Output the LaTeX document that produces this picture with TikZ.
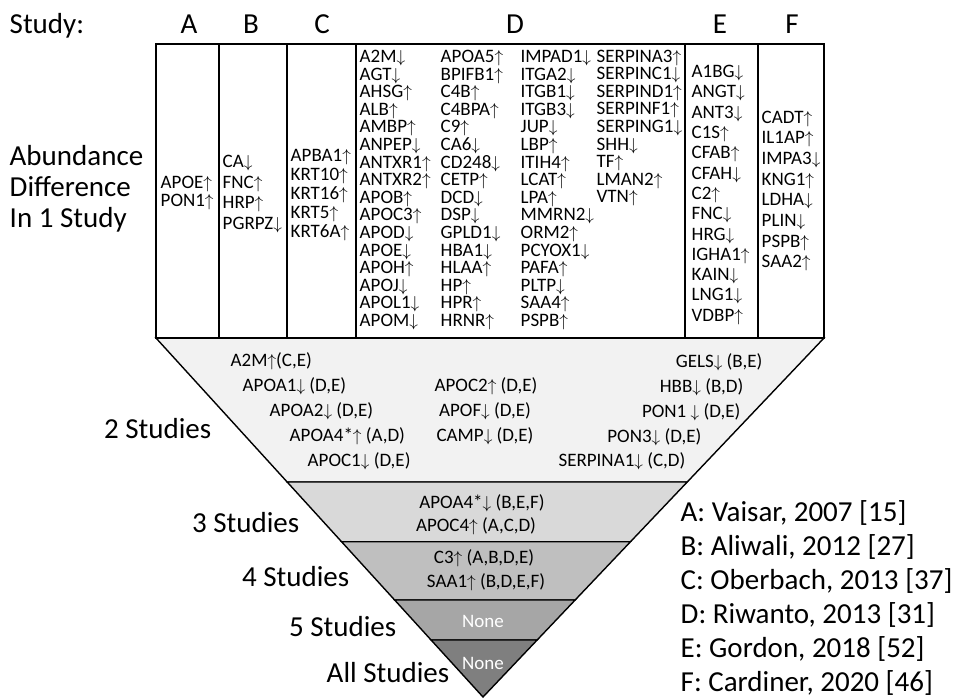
\documentclass[tikz,border=0pt]{standalone}
\usepackage{fontspec}
\setmainfont{Carlito}
\usetikzlibrary{calc, positioning}

\definecolor{bandtwo}{HTML}{F2F2F2}
\definecolor{bandthree}{HTML}{D9D9D9}
\definecolor{bandfour}{HTML}{BFBFBF}
\definecolor{bandfive}{HTML}{A6A6A6}
\definecolor{bandall}{HTML}{7F7F7F}

\newcommand{\upa}{$\uparrow$}
\newcommand{\dna}{$\downarrow$}
\newcommand{\gsize}[1]{\fontsize{19}{#1}\selectfont}
\newcommand{\bigsize}{\fontsize{29}{31}\selectfont}

\begin{document}
\begin{tikzpicture}[x=1pt, y=-1pt, line width=1.4pt,
    biglabel/.style={font=\bigsize, inner sep=0pt},
    genecol/.style={align=left, anchor=west, inner sep=0pt},
    bandtext/.style={font=\gsize{20}, inner sep=0pt}]
    \useasboundingbox (0,0) rectangle (956,699);

    % 1. Trechter met de banden
    \coordinate (fl) at (156,338);
    \coordinate (fr) at (824,338);
    \coordinate (apex) at (483,697);
    \foreach \a/\b/\c in {0/0.401/bandtwo, 0.401/0.5674/bandthree,
                          0.5674/0.7298/bandfour, 0.7298/0.8412/bandfive} {
        \filldraw[fill=\c] ($(fl)!\a!(apex)$) -- ($(fl)!\b!(apex)$)
            -- ($(fr)!\b!(apex)$) -- ($(fr)!\a!(apex)$) -- cycle;
    }
    \filldraw[fill=bandall] ($(fl)!0.8412!(apex)$) -- (apex)
        -- ($(fr)!0.8412!(apex)$) -- cycle;

    % 2. Tabel met een studie
    \draw (156,44) rectangle (fr);
    \foreach \x in {219,287,356,685,758} {
        \draw (\x,44) -- (\x,338);
    }

    % 3. Koppen
    \node[biglabel, anchor=base west] (study) at (9,33) {Study:};
    \foreach \s/\x in {A/189,B/251,C/322,D/515,E/720,F/792} {
        \node[biglabel, anchor=base] (head\s) at (\x,33) {\s};
    }
    \node[biglabel, anchor=west, align=left, font=\fontsize{29}{31}\selectfont]
        (single) at (9,189) {Abundance\\Difference\\In 1 Study};

    % 4. Eiwitten per studie
    \node[genecol, font=\gsize{18}] (colA) at (160,193) {APOE\upa\\PON1\upa};
    \node[genecol, font=\gsize{20.7}] (colB) at (222,194)
        {CA\dna\\FNC\upa\\HRP\upa\\PGRPZ\dna};
    \node[genecol, font=\gsize{19}] (colC) at (290,195)
        {APBA1\upa\\KRT10\upa\\KRT16\upa\\KRT5\upa\\KRT6A\upa};
    \node[genecol, font=\gsize{17.6}] (colDa) at (359,190)
        {A2M\dna\\AGT\dna\\AHSG\upa\\ALB\upa\\AMBP\upa\\ANPEP\dna\\ANTXR1\upa\\ANTXR2\upa\\
         APOB\upa\\APOC3\upa\\APOD\dna\\APOE\dna\\APOH\upa\\APOJ\dna\\APOL1\dna\\APOM\dna};
    \node[genecol, font=\gsize{17.6}] (colDb) at (440,190)
        {APOA5\upa\\BPIFB1\upa\\C4B\upa\\C4BPA\upa\\C9\upa\\CA6\dna\\CD248\dna\\CETP\upa\\
         DCD\dna\\DSP\dna\\GPLD1\dna\\HBA1\dna\\HLAA\upa\\HP\upa\\HPR\upa\\HRNR\upa};
    \node[genecol, font=\gsize{17.6}] (colDc) at (520,190)
        {IMPAD1\dna\\ITGA2\dna\\ITGB1\dna\\ITGB3\dna\\JUP\dna\\LBP\upa\\ITIH4\upa\\LCAT\upa\\
         LPA\upa\\MMRN2\dna\\ORM2\upa\\PCYOX1\dna\\PAFA\upa\\PLTP\dna\\SAA4\upa\\PSPB\upa};
    \node[genecol, font=\gsize{17.6}] (colDd) at (596,128)
        {SERPINA3\upa\\SERPINC1\dna\\SERPIND1\upa\\SERPINF1\upa\\SERPING1\dna\\
         SHH\dna\\TF\upa\\LMAN2\upa\\VTN\upa};
    \node[genecol, font=\gsize{20.3}] (colE) at (691,195)
        {A1BG\dna\\ANGT\dna\\ANT3\dna\\C1S\upa\\CFAB\upa\\CFAH\dna\\C2\upa\\FNC\dna\\
         HRG\dna\\IGHA1\upa\\KAIN\dna\\LNG1\dna\\VDBP\upa};
    \node[genecol, font=\gsize{20.7}] (colF) at (761,191)
        {CADT\upa\\IL1AP\upa\\IMPA3\dna\\KNG1\upa\\LDHA\dna\\PLIN\dna\\PSPB\upa\\SAA2\upa};

    % 5. Twee studies
    \node[bandtext, anchor=west] (twoA) at (230,361) {A2M\upa(C,E)};
    \node[bandtext, anchor=west] (twoB) at (242,386) {APOA1\dna{} (D,E)};
    \node[bandtext, anchor=west] (twoC) at (269,411) {APOA2\dna{} (D,E)};
    \node[bandtext, anchor=west] (twoD) at (289,436) {APOA4*\upa{} (A,D)};
    \node[bandtext, anchor=west] (twoE) at (307,461) {APOC1\dna{} (D,E)};
    \node[bandtext] (twoF) at (486,386) {APOC2\upa{} (D,E)};
    \node[bandtext] (twoG) at (485,411) {APOF\dna{} (D,E)};
    \node[bandtext] (twoH) at (485,436) {CAMP\dna{} (D,E)};
    \node[bandtext, anchor=east] (twoI) at (763,362) {GELS\dna{} (B,E)};
    \node[bandtext, anchor=east] (twoJ) at (744,387) {HBB\dna{} (B,D)};
    \node[bandtext, anchor=east] (twoK) at (741,412) {PON1 \dna{} (D,E)};
    \node[bandtext, anchor=east] (twoL) at (702,437) {PON3\dna{} (D,E)};
    \node[bandtext, anchor=east] (twoM) at (686,461) {SERPINA1\dna{} (C,D)};

    % 6. Drie of meer studies
    \node[bandtext] (threeA) at (482,503) {APOA4*\dna{} (B,E,F)};
    \node[bandtext] (threeB) at (476,526) {APOC4\upa{} (A,C,D)};
    \node[bandtext] (fourA) at (484,558) {C3\upa{} (A,B,D,E)};
    \node[bandtext] (fourB) at (486,582) {SAA1\upa{} (B,D,E,F)};
    \node[bandtext, text=white] (fiveA) at (483,621) {None};
    \node[bandtext, text=white] (allA) at (483,663) {None};

    % 7. Labels links van de trechter
    \node[biglabel, anchor=base east] (two) at (212,438) {2 Studies};
    \node[biglabel, anchor=base east] (three) at (300,532) {3 Studies};
    \node[biglabel, anchor=base east] (four) at (350,586) {4 Studies};
    \node[biglabel, anchor=base east] (five) at (397,636) {5 Studies};
    \node[biglabel, anchor=base east] (all) at (450,682) {All Studies};

    % 8. Legenda
    \foreach \k/\txt [count=\i from 0] in {A/{Vaisar, 2007 [15]}, B/{Aliwali, 2012 [27]},
            C/{Oberbach, 2013 [37]}, D/{Riwanto, 2013 [31]},
            E/{Gordon, 2018 [52]}, F/{Cardiner, 2020 [46]}} {
        \node[biglabel, anchor=base west] (key\k) at (680, 521+34*\i) {\k: \txt};
    }
\end{tikzpicture}
\end{document}
